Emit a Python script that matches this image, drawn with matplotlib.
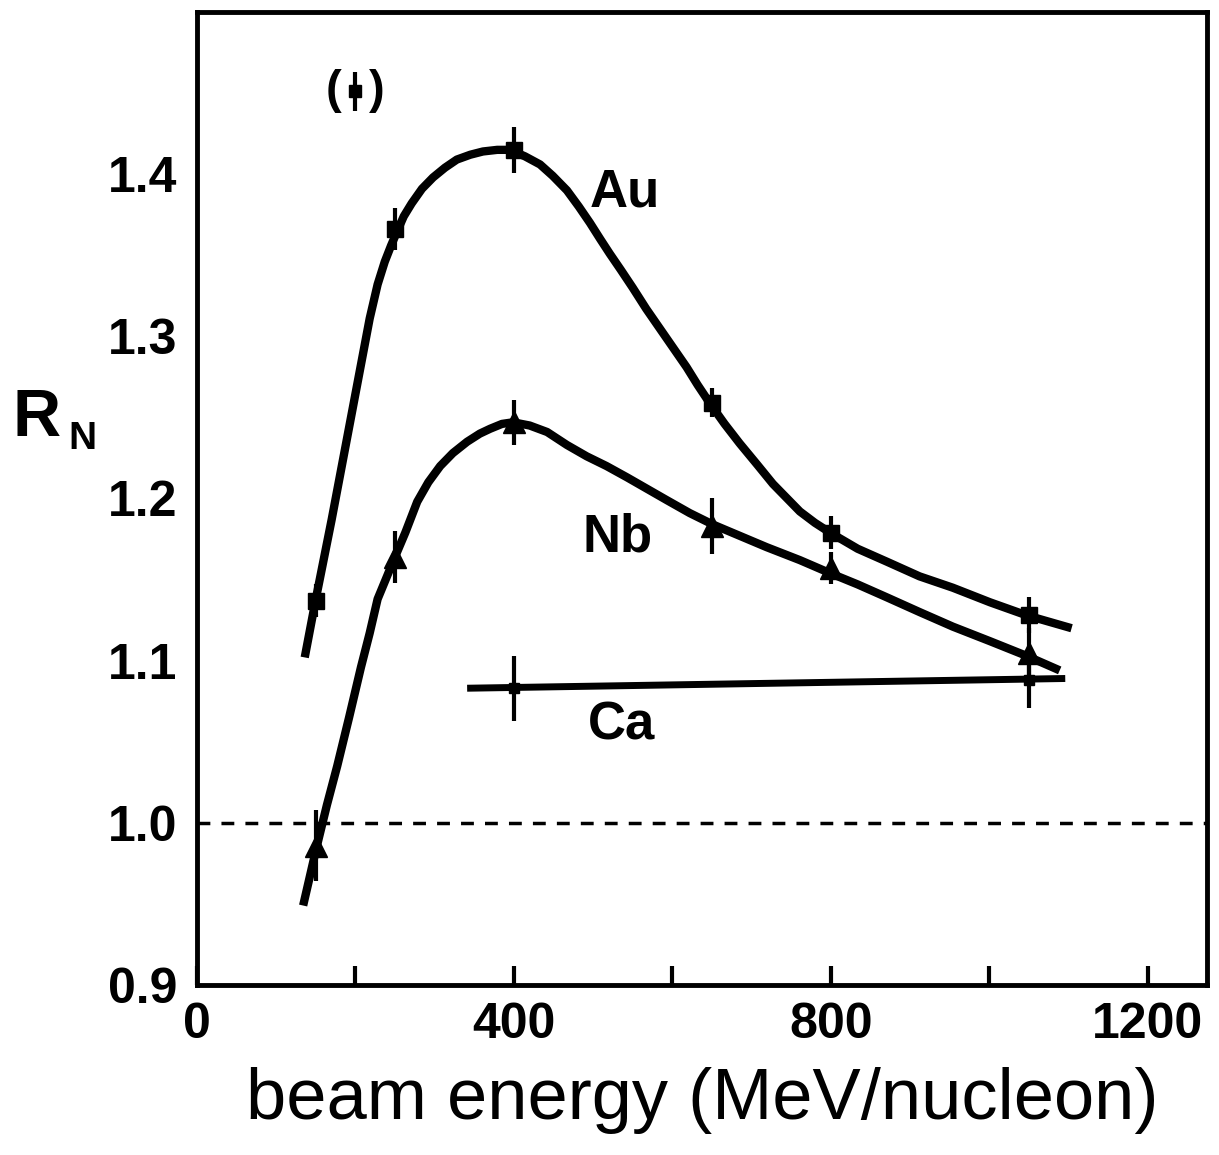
import matplotlib
matplotlib.use("Agg")
import matplotlib.pyplot as plt

plt.rcParams["font.family"] = ["Liberation Sans", "DejaVu Sans"]

# measured points (beam energy in MeV/nucleon, ratio R_N, error)
au_e = [150, 250, 400, 650, 800, 1050]
au_r = [1.137, 1.366, 1.415, 1.259, 1.179, 1.128]
au_err = [0.010, 0.013, 0.014, 0.009, 0.010, 0.011]

nb_e = [150, 250, 400, 650, 800, 1050]
nb_r = [0.986, 1.164, 1.247, 1.183, 1.157, 1.105]
nb_err = [0.022, 0.016, 0.014, 0.017, 0.010, 0.015]

ca_e = [400, 1050]
ca_r = [1.083, 1.088]
ca_err = [0.020, 0.017]

# bracketed extra point
extra_e = [200]
extra_r = [1.451]
extra_err = [0.012]

# hand-drawn guide curves
au_curve_e = [136, 150, 170, 194, 218, 228, 237, 245, 252, 261, 271, 284,
              298, 313, 328, 345, 361, 379, 395, 414, 433, 449, 467, 482,
              496, 509, 521, 535, 550, 567, 584, 601, 618, 632, 647, 666,
              685, 707, 727, 745, 761, 780, 799, 834, 871, 912, 954, 1001,
              1047, 1104]
au_curve_r = [1.102, 1.138, 1.187, 1.249, 1.311, 1.332, 1.346, 1.356, 1.364,
              1.374, 1.382, 1.391, 1.398, 1.404, 1.409, 1.412, 1.414, 1.415,
              1.415, 1.411, 1.406, 1.399, 1.390, 1.380, 1.370, 1.360, 1.351,
              1.341, 1.330, 1.317, 1.305, 1.293, 1.281, 1.270, 1.259, 1.246,
              1.234, 1.221, 1.209, 1.200, 1.192, 1.185, 1.179, 1.169, 1.161,
              1.152, 1.145, 1.136, 1.128, 1.120]

nb_curve_e = [134, 151, 164, 177, 192, 207, 218, 228, 239, 250, 263, 278,
              292, 307, 323, 341, 357, 370, 385, 399, 420, 442, 467, 492,
              517, 543, 568, 593, 622, 651, 685, 719, 761, 799, 834, 871,
              912, 954, 1001, 1047, 1089]
nb_curve_r = [0.949, 0.985, 1.011, 1.035, 1.065, 1.096, 1.117, 1.138, 1.151,
              1.164, 1.179, 1.198, 1.210, 1.220, 1.228, 1.235, 1.240, 1.243,
              1.246, 1.247, 1.245, 1.241, 1.233, 1.226, 1.220, 1.213, 1.206,
              1.199, 1.191, 1.184, 1.177, 1.170, 1.162, 1.154, 1.147, 1.139,
              1.130, 1.121, 1.112, 1.103, 1.094]

ca_line_e = [341, 1096]
ca_line_r = [1.083, 1.089]

fig = plt.figure(figsize=(12.19, 11.55), dpi=100)
ax = fig.add_axes([0.1616, 0.1472, 0.8286, 0.8424])

ax.axhline(1.0, color="black", lw=2.5, dashes=(3.7, 3.2), zorder=1)

lw_curve = 6
ax.plot(au_curve_e, au_curve_r, color="black", lw=lw_curve,
        solid_capstyle="butt", solid_joinstyle="round", zorder=2)
ax.plot(nb_curve_e, nb_curve_r, color="black", lw=lw_curve,
        solid_capstyle="butt", solid_joinstyle="round", zorder=2)
ax.plot(ca_line_e, ca_line_r, color="black", lw=5,
        solid_capstyle="butt", zorder=2)

ax.errorbar(au_e, au_r, yerr=au_err, fmt="s", color="black", ms=12,
            elinewidth=3, capsize=0, zorder=3)
ax.errorbar(nb_e, nb_r, yerr=nb_err, fmt="^", color="black", ms=16,
            elinewidth=3, capsize=0, zorder=3)
ax.errorbar(ca_e, ca_r, yerr=ca_err, fmt="s", color="black", ms=7,
            elinewidth=3, capsize=0, zorder=3)
ax.errorbar(extra_e, extra_r, yerr=extra_err, fmt="s", color="black", ms=9,
            elinewidth=3, capsize=0, zorder=3)

ax.text(172, 1.451, "(", fontsize=34, fontweight="bold", ha="center", va="center")
ax.text(227, 1.451, ")", fontsize=34, fontweight="bold", ha="center", va="center")

ax.text(540, 1.389, "Au", fontsize=38, fontweight="bold", ha="center", va="center")
ax.text(531, 1.176, "Nb", fontsize=38, fontweight="bold", ha="center", va="center")
ax.text(536, 1.060, "Ca", fontsize=38, fontweight="bold", ha="center", va="center")

ax.set_xlim(0, 1275)
ax.set_ylim(0.9, 1.5)

ax.set_xticks([0, 400, 800, 1200])
ax.set_xticks([200, 600, 1000], minor=True)
ax.set_yticks([0.9, 1.0, 1.1, 1.2, 1.3, 1.4])
ax.set_yticklabels(["0.9", "1.0", "1.1", "1.2", "1.3", "1.4"])

ax.tick_params(axis="x", which="both", direction="in", length=14, width=3,
               pad=12, labelsize=36)
ax.tick_params(axis="y", length=0, pad=14, labelsize=36)
for lab in ax.get_xticklabels() + ax.get_yticklabels():
    lab.set_fontweight("bold")

for sp in ax.spines.values():
    sp.set_linewidth(3.5)

ax.set_xlabel("beam energy (MeV/nucleon)", fontsize=52, labelpad=14)

fig.text(0.030, 0.637, "R", fontsize=48, fontweight="bold", ha="center", va="center")
fig.text(0.068, 0.620, "N", fontsize=28, fontweight="bold", ha="center", va="center")

fig.savefig("out.png", dpi=100)
